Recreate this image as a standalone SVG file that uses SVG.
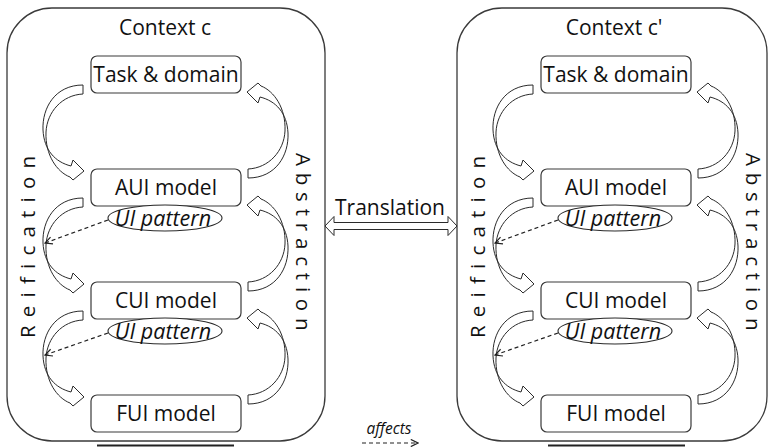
<svg xmlns="http://www.w3.org/2000/svg" width="769" height="447" viewBox="0 0 769 447">
<defs>
<style>
.ctx{fill:#fff;stroke:#3a3a3a;stroke-width:1.3}
.box{fill:#fff;stroke:#3a3a3a;stroke-width:1.2}
.pat{fill:#fff;stroke:#2a2a2a;stroke-width:1.1}
.t{font-family:"Open Sans","Liberation Sans",sans-serif;font-size:21px;fill:#111;text-anchor:middle}
.ti{font-family:"Open Sans","Liberation Sans",sans-serif;font-size:21.5px;font-style:italic;fill:#111;text-anchor:middle}
.v{font-family:"Open Sans","Liberation Sans",sans-serif;font-size:20.5px;fill:#111}
.blk{fill:#fff;stroke:#2a2a2a;stroke-width:1}
.dash{fill:none;stroke:#222;stroke-width:1.2;stroke-dasharray:4 3}
.bar{stroke:#222;stroke-width:2}
</style>
<marker id="open" viewBox="0 0 10 10" refX="9" refY="5" markerWidth="9" markerHeight="9" markerUnits="userSpaceOnUse" orient="auto">
<path d="M1,1 L9,5 L1,9" fill="none" stroke="#222" stroke-width="1.3"/>
</marker>
<path id="cdown" class="blk" d="M83,85 C55,85 42,108 43,130 C44,150 55,162 71,166 L73,160 L84,171 L73,180 L70,177 C57,172 45,155 46,132 C47,112 62,95 83,94 Z"/>
<g id="cup"><use href="#cdown" transform="rotate(180 165.5 131.5)"/></g>
</defs>

<g id="context-c">
<rect class="ctx" x="7" y="8" width="318" height="433" rx="45" ry="45"/>
<text class="t" x="165" y="35">Context c</text>
</g>
<g id="context-c2">
<rect class="ctx" x="457" y="8" width="310" height="433" rx="45" ry="45"/>
<text class="t" x="614" y="35">Context c'</text>
</g>

<g id="labels">
<text class="v" transform="translate(35,338) rotate(-90)" letter-spacing="8.2">Reification</text>
<text class="v" transform="translate(296,153) rotate(90)" letter-spacing="6.8">Abstraction</text>
<text class="v" transform="translate(485,338) rotate(-90)" letter-spacing="8.2">Reification</text>
<text class="v" transform="translate(746,153) rotate(90)" letter-spacing="6.8">Abstraction</text>
</g>

<g id="connectors">
<use href="#cdown"/>
<use href="#cdown" transform="translate(0,113)"/>
<use href="#cdown" transform="translate(0,226)"/>
<use href="#cup"/>
<use href="#cup" transform="translate(0,113)"/>
<use href="#cup" transform="translate(0,226)"/>
<use href="#cdown" transform="translate(450,0)"/>
<use href="#cdown" transform="translate(450,113)"/>
<use href="#cdown" transform="translate(450,226)"/>
<use href="#cup" transform="translate(450,0)"/>
<use href="#cup" transform="translate(450,113)"/>
<use href="#cup" transform="translate(450,226)"/>
<line class="dash" x1="108" y1="220" x2="45" y2="243" marker-end="url(#open)"/>
<line class="dash" x1="108" y1="333" x2="45" y2="355" marker-end="url(#open)"/>
<line class="dash" x1="558" y1="220" x2="495" y2="243" marker-end="url(#open)"/>
<line class="dash" x1="558" y1="333" x2="495" y2="355" marker-end="url(#open)"/>
<path id="translation-arrow" class="blk" d="M325,226 L334,216.5 L334,222.5 L448,222.5 L448,216.5 L457,226 L448,235.5 L448,229.5 L334,229.5 L334,235.5 Z"/>
<text class="t" x="390" y="215">Translation</text>
</g>

<g id="task-c"><rect class="box" x="91" y="56" width="150" height="37" rx="6"/><text class="t" x="166" y="82">Task &amp; domain</text></g>
<g id="aui-c"><rect class="box" x="91" y="169" width="150" height="37" rx="6"/><text class="t" x="166" y="195">AUI model</text></g>
<g id="cui-c"><rect class="box" x="91" y="282" width="150" height="37" rx="6"/><text class="t" x="166" y="308">CUI model</text></g>
<g id="fui-c"><rect class="box" x="91" y="395" width="150" height="37" rx="6"/><text class="t" x="166" y="421">FUI model</text></g>
<g id="pattern1-c"><ellipse class="pat" cx="165" cy="218" rx="57" ry="13"/><text class="ti" x="163" y="225.5">UI pattern</text></g>
<g id="pattern2-c"><ellipse class="pat" cx="165" cy="331" rx="57" ry="13"/><text class="ti" x="163" y="338.5">UI pattern</text></g>

<g id="task-c2"><rect class="box" x="541" y="56" width="150" height="37" rx="6"/><text class="t" x="616" y="82">Task &amp; domain</text></g>
<g id="aui-c2"><rect class="box" x="541" y="169" width="150" height="37" rx="6"/><text class="t" x="616" y="195">AUI model</text></g>
<g id="cui-c2"><rect class="box" x="541" y="282" width="150" height="37" rx="6"/><text class="t" x="616" y="308">CUI model</text></g>
<g id="fui-c2"><rect class="box" x="541" y="395" width="150" height="37" rx="6"/><text class="t" x="616" y="421">FUI model</text></g>
<g id="pattern1-c2"><ellipse class="pat" cx="615" cy="218" rx="57" ry="13"/><text class="ti" x="613" y="225.5">UI pattern</text></g>
<g id="pattern2-c2"><ellipse class="pat" cx="615" cy="331" rx="57" ry="13"/><text class="ti" x="613" y="338.5">UI pattern</text></g>

<g id="legend">
<text class="ti" x="389" y="434" style="font-size:15.5px">affects</text>
<line class="dash" x1="362" y1="443" x2="418" y2="443" marker-end="url(#open)"/>
</g>
<line class="bar" x1="97" y1="445.5" x2="234" y2="445.5"/>
<line class="bar" x1="548" y1="445.5" x2="685" y2="445.5"/>
</svg>
